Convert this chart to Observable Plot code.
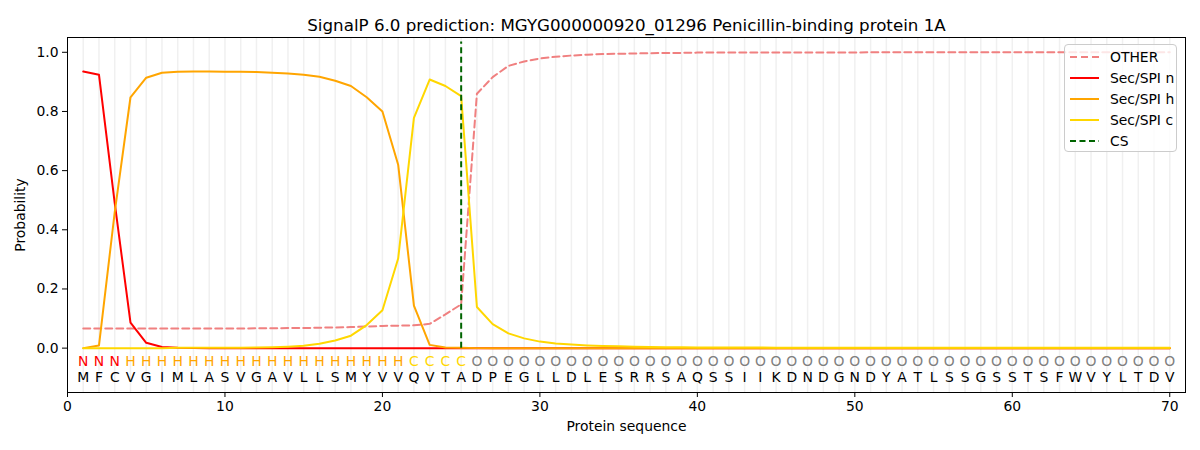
<!DOCTYPE html>
<html>
<head>
<meta charset="utf-8">
<script src="https://cdn.jsdelivr.net/npm/d3@7"></script>
<script src="https://cdn.jsdelivr.net/npm/@observablehq/plot@0.6"></script>
<style>
  html, body { margin: 0; padding: 0; background: white; }
  #wrap { position: relative; width: 1200px; height: 450px; font-family: "DejaVu Sans", sans-serif; }
  #legend { position: absolute; left: 1064px; top: 44px; width: 113px; height: 108px;
    border: 1px solid #cccccc; border-radius: 4px; background: rgba(255,255,255,0.8); box-sizing: border-box; }
  #legend .row { position: absolute; left: 0; height: 20px; width: 100%; }
  #legend svg { position: absolute; left: 5px; top: 4px; }
  #legend span { position: absolute; left: 45px; top: 0; font-size: 13.9px; line-height: 20px; color: #000; white-space: nowrap; }
</style>
</head>
<body>
<div id="wrap"></div>
<script>
const title = "SignalP 6.0 prediction: MGYG000000920_01296 Penicillin-binding protein 1A";
const sequence = "MFCVGIMLASVGAVLLSMYVVQVTADPEGLLDLESRRSAQSSIIKDNDGNDYATLSSGSSTSFWVYLTDV";
const regionLabels = "NNNHHHHHHHHHHHHHHHHHHCCCCOOOOOOOOOOOOOOOOOOOOOOOOOOOOOOOOOOOOOOOOOOOOO";
const positions = d3.range(1, 71);

const other = [0.066,0.066,0.066,0.066,0.066,0.066,0.066,0.066,0.066,0.066,
  0.066,0.067,0.067,0.068,0.068,0.069,0.070,0.071,0.073,0.075,
  0.076,0.077,0.082,0.114,0.148,0.860,0.916,0.954,0.969,0.979,
  0.985,0.989,0.992,0.994,0.995,0.996,0.997,0.998,0.998,0.999,
  0.999,0.999,0.999,0.999,0.999,0.999,0.999,0.999,0.999,0.999,
  1.0,1.0,1.0,1.0,1.0,1.0,1.0,1.0,1.0,1.0,
  1.0,1.0,1.0,1.0,1.0,1.0,1.0,1.0,1.0,1.0];
const secN = [0.935,0.924,0.490,0.086,0.018,0.004,0.001,0,0,0,
  0,0,0,0,0,0,0,0,0,0, 0,0,0,0,0,0,0,0,0,0,
  0,0,0,0,0,0,0,0,0,0, 0,0,0,0,0,0,0,0,0,0,
  0,0,0,0,0,0,0,0,0,0, 0,0,0,0,0,0,0,0,0,0];
const secH = [0,0.009,0.460,0.848,0.914,0.931,0.934,0.935,0.935,0.934,
  0.934,0.933,0.931,0.928,0.924,0.917,0.904,0.886,0.848,0.800,
  0.620,0.144,0.011,0.002,0.001,0,0,0,0,0,
  0,0,0,0,0,0,0,0,0,0, 0,0,0,0,0,0,0,0,0,0,
  0,0,0,0,0,0,0,0,0,0, 0,0,0,0,0,0,0,0,0,0];
const secC = [0,0,0,0,0,0,0.001,0.001,0.001,0.001,
  0.001,0.002,0.003,0.005,0.008,0.015,0.026,0.042,0.078,0.128,
  0.303,0.778,0.908,0.886,0.852,0.139,0.081,0.050,0.033,0.022,
  0.016,0.012,0.009,0.007,0.006,0.005,0.004,0.003,0.003,0.002,
  0.002,0.002,0.002,0.002,0.001,0.001,0.001,0.001,0.001,0.001,
  0.001,0.001,0.001,0.001,0.001,0.001,0.001,0.001,0.001,0.001,
  0.001,0.001,0.001,0.001,0.001,0.001,0.001,0.001,0.001,0.001];
const csPosition = 25;
const xTicks = [0,10,20,30,40,50,60,70];
const yTicks = [0,0.2,0.4,0.6,0.8,1.0];

const series = [
  {name: "OTHER", values: other, color: "#f08080", dash: "7,4"},
  {name: "Sec/SPI n", values: secN, color: "#ff0000", dash: null},
  {name: "Sec/SPI h", values: secH, color: "#ffa500", dash: null},
  {name: "Sec/SPI c", values: secC, color: "#ffd700", dash: null}
];
const labelColor = {N: "#ff0000", H: "#ffa500", C: "#ffd700", O: "#808080"};
const residues = positions.map((p, i) => ({x: p, aa: sequence[i], lab: regionLabels[i]}));

const lineMarks = series.map(s => Plot.line(positions.map((p, i) => ({x: p, y: s.values[i]})), {
  x: "x", y: "y", stroke: s.color, strokeWidth: 2, strokeDasharray: s.dash || undefined
}));

const chart = Plot.plot({
  width: 1200, height: 450,
  marginLeft: 67, marginRight: 15, marginTop: 37, marginBottom: 58,
  style: {fontFamily: "DejaVu Sans", fontSize: "13.9px", background: "white", color: "black"},
  x: {domain: [0, 71]},
  y: {domain: [-0.15, 1.05]},
  marks: [
    Plot.ruleX(positions, {stroke: "#f0f0f0", strokeWidth: 1.5}),
    ...lineMarks,
    Plot.ruleX([csPosition], {y1: 0, y2: 1.035, stroke: "#006400", strokeWidth: 2, strokeDasharray: "6,3.5"}),
    Plot.text(residues, {x: "x", y: -0.047, text: "lab", fill: d => labelColor[d.lab], fontSize: 13.9}),
    Plot.text(residues, {x: "x", y: -0.10, text: "aa", fill: "black", fontSize: 13.9}),
    Plot.frame({stroke: "black", strokeWidth: 1}),
    Plot.axisX({ticks: xTicks, tickFormat: d => String(d), tickSize: 5, tickPadding: 4,
      label: "Protein sequence", labelAnchor: "center", labelArrow: "none", labelOffset: 38}),
    Plot.axisY({ticks: yTicks, tickFormat: d3.format(".1f"), tickSize: 5, tickPadding: 4,
      label: "Probability", labelAnchor: "center", labelArrow: "none", labelOffset: 52}),
    Plot.text([title], {frameAnchor: "top", dy: -7, lineAnchor: "bottom", text: d => d, fontSize: 16.7, fill: "black"})
  ]
});

const wrap = document.getElementById("wrap");
wrap.appendChild(chart);

const legend = document.createElement("div");
legend.id = "legend";
const entries = [...series.map(s => ({name: s.name, color: s.color, dash: s.dash})),
  {name: "CS", color: "#006400", dash: "6,3.5"}];
entries.forEach((e, i) => {
  const row = document.createElement("div");
  row.className = "row";
  row.style.top = (2 + i * 21) + "px";
  row.innerHTML = `<svg width="30" height="12"><line x1="0" y1="6" x2="29" y2="6" stroke="${e.color}" stroke-width="2" ${e.dash ? `stroke-dasharray="${e.dash}"` : ""}/></svg><span>${e.name}</span>`;
  legend.appendChild(row);
});
wrap.appendChild(legend);
</script>
</body>
</html>
